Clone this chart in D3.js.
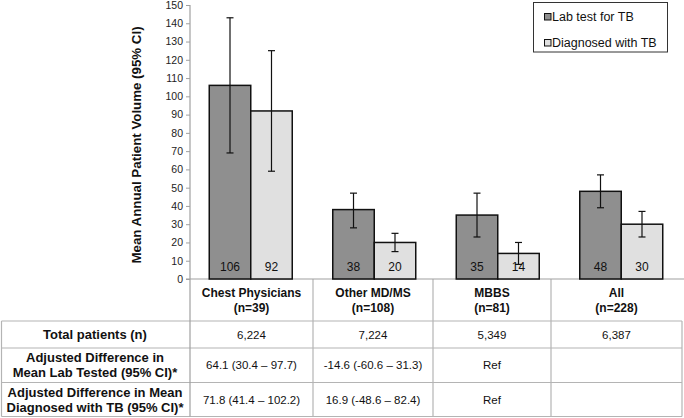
<!DOCTYPE html>
<html><head><meta charset="utf-8">
<script src="https://cdn.jsdelivr.net/npm/d3@7"></script>
<style>body{margin:0;background:#fff}svg{display:block;font-family:"Liberation Sans",Arial,sans-serif}</style>
</head><body><svg id="c" width="684" height="418"></svg>
<script>
const categories = ["Chest Physicians", "Other MD/MS", "MBBS", "All"];
const nLabels = ["(n=39)", "(n=108)", "(n=81)", "(n=228)"];
const seriesNames = ["Lab test for TB", "Diagnosed with TB"];
const labTest = [106, 38, 35, 48];
const labLow = [69, 28, 23, 39];
const labHigh = [143, 47, 47, 57];
const diagnosed = [92, 20, 14, 30];
const diagLow = [59, 15, 8, 23];
const diagHigh = [125, 25, 20, 37];
const yTicks = [0,10,20,30,40,50,60,70,80,90,100,110,120,130,140,150];
const rowLabels = [["Total patients (n)"], ["Adjusted Difference in", "Mean Lab Tested (95% CI)*"], ["Adjusted Difference in Mean", "Diagnosed with TB (95% CI)*"]];
const totalPatients = ["6,224", "7,224", "5,349", "6,387"];
const adjLab = ["64.1 (30.4 \u2013 97.7)", "-14.6 (-60.6 \u2013 31.3)", "Ref", ""];
const adjDiag = ["71.8 (41.4 \u2013 102.2)", "16.9 (-48.6 \u2013 82.4)", "Ref", ""];

const svg = d3.select("#c");
const colors = ["#8f8f8f", "#e0e0e0"];
const y = d3.scaleLinear().domain([0,150]).range([279,5]);
const x = d3.scaleBand().domain(categories).range([189,683]).padding(0);
const bw = x.bandwidth()*0.336;
const xs = d3.scaleBand().domain([0,1]).range([0, 2*bw]);

// table
const colX = [190, 313, 433, 551, 682];
const rowY = [279, 321, 348, 382.5, 416.5];
const lineC = "#b4b4b4";
const tg = svg.append("g");
rowY.slice(1).forEach(v => tg.append("line").attr("x1",1.5).attr("x2",682).attr("y1",v).attr("y2",v).attr("stroke",lineC).attr("stroke-width",1.2));
tg.append("line").attr("x1",1.5).attr("x2",1.5).attr("y1",321).attr("y2",416.5).attr("stroke",lineC).attr("stroke-width",1.2);
colX.slice(1,4).forEach(v => tg.append("line").attr("x1",v).attr("x2",v).attr("y1",279).attr("y2",416.5).attr("stroke",lineC).attr("stroke-width",1.2));
tg.append("line").attr("x1",682).attr("x2",682).attr("y1",321).attr("y2",416.5).attr("stroke",lineC).attr("stroke-width",1.2);
tg.append("line").attr("x1",colX[0]).attr("x2",colX[0]).attr("y1",5).attr("y2",416.5).attr("stroke","#a0a0a0").attr("stroke-width",1.2);

categories.forEach((c,i) => {
  const cx = (colX[i]+colX[i+1])/2;
  const t = tg.append("text").attr("text-anchor","middle").attr("font-weight","bold").attr("font-size",12).attr("fill","#111");
  t.append("tspan").attr("x",cx).attr("y",297).text(c);
  t.append("tspan").attr("x",cx).attr("y",312).text(nLabels[i]);
});
const rowCenters = [1,2,3].map(i => (rowY[i]+rowY[i+1])/2);
rowLabels.forEach((lines,r) => {
  const cy = rowCenters[r];
  const t = tg.append("text").attr("text-anchor","middle").attr("font-weight","bold").attr("font-size",13).attr("fill","#111");
  lines.forEach((l,k) => {
    t.append("tspan").attr("x",95).attr("y", cy + 4.5 + (k - (lines.length-1)/2)*15).text(l);
  });
});
[totalPatients, adjLab, adjDiag].forEach((row,r) => {
  row.forEach((v,i) => {
    tg.append("text").attr("x",(colX[i]+colX[i+1])/2).attr("y",rowCenters[r]+4.2).attr("text-anchor","middle").attr("font-size",11.5).attr("fill","#111").text(v);
  });
});

const yAxis = d3.axisLeft(y).tickValues(yTicks).tickSize(4).tickPadding(3);
const ag = svg.append("g").attr("transform","translate(190,0)").call(yAxis);
ag.select(".domain").remove();
ag.selectAll(".tick line").attr("stroke","#a0a0a0");
ag.selectAll(".tick text").attr("font-size",10.5).attr("fill","#222").attr("font-family","Liberation Sans, Arial, sans-serif");
svg.append("line").attr("x1",186).attr("x2",684).attr("y1",y(0)).attr("y2",y(0)).attr("stroke","#a0a0a0").attr("stroke-width",1.2);

svg.append("text").attr("transform","translate(141,145) rotate(-90)").attr("text-anchor","middle")
  .attr("font-weight","bold").attr("font-size",13.3).attr("fill","#111").text("Mean Annual Patient Volume (95% CI)");

const data = categories.map((c,i)=>[
  {c, s:0, v:labTest[i], lo:labLow[i], hi:labHigh[i]},
  {c, s:1, v:diagnosed[i], lo:diagLow[i], hi:diagHigh[i]}
]).flat();
const bx = d => x(d.c) + (x.bandwidth()-2*bw)/2 + xs(d.s);
const bg = svg.append("g");
bg.selectAll("rect").data(data).join("rect")
  .attr("x", bx).attr("y", d=>y(d.v)).attr("width", bw).attr("height", d=>y(0)-y(d.v))
  .attr("fill", d=>colors[d.s]).attr("stroke","#111").attr("stroke-width",1.5);
bg.selectAll("text.val").data(data).join("text").attr("class","val")
  .attr("x", d=>bx(d)+bw/2).attr("y", 271).attr("text-anchor","middle").attr("font-size",12).attr("fill","#111")
  .text(d=>d.v);
const eg = svg.append("g").attr("stroke","#111").attr("stroke-width",1.2);
data.forEach(d => {
  const cx = bx(d)+bw/2;
  eg.append("line").attr("x1",cx).attr("x2",cx).attr("y1",y(d.hi)).attr("y2",y(d.lo));
  eg.append("line").attr("x1",cx-3.5).attr("x2",cx+3.5).attr("y1",y(d.hi)).attr("y2",y(d.hi));
  eg.append("line").attr("x1",cx-3.5).attr("x2",cx+3.5).attr("y1",y(d.lo)).attr("y2",y(d.lo));
});

const lg = svg.append("g");
lg.append("rect").attr("x",533.5).attr("y",2.5).attr("width",134).attr("height",49.5).attr("fill","#fff").attr("stroke","#333").attr("stroke-width",1);
seriesNames.forEach((s,i) => {
  lg.append("rect").attr("x",544.5).attr("y",13.5+i*26).attr("width",6.5).attr("height",6.5).attr("fill",colors[i]).attr("stroke","#111").attr("stroke-width",1);
  lg.append("text").attr("x",552).attr("y",21+i*26).attr("font-size",12.5).attr("fill","#111").text(s);
});
</script></body></html>
